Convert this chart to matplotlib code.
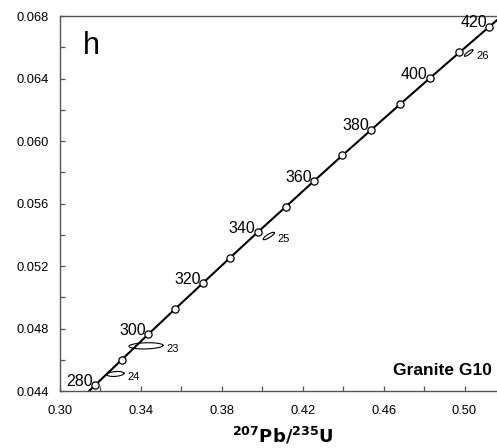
import numpy as np
import matplotlib.pyplot as plt

plt.rcParams['font.family'] = ['Liberation Sans', 'DejaVu Sans']

# concordia ages (Ma) and their 207Pb/235U, 206Pb/238U ratios
ages = [270, 280, 290, 300, 310, 320, 330, 340, 350, 360, 370, 380, 390, 400, 410, 420, 430]
pb207_u235 = [0.3046, 0.3175, 0.3306, 0.3437, 0.3570, 0.3705, 0.3840, 0.3977, 0.4116,
              0.4255, 0.4396, 0.4539, 0.4683, 0.4828, 0.4975, 0.5123, 0.5273]
pb206_u238 = [0.04277, 0.04439, 0.04601, 0.04764, 0.04926, 0.05089, 0.05252, 0.05416,
              0.05579, 0.05743, 0.05908, 0.06072, 0.06237, 0.06402, 0.06567, 0.06732, 0.06898]
labelled_ages = [280, 300, 320, 340, 360, 380, 400, 420]
marked_ages = list(range(280, 421, 10))

# zircon spot analyses: centre, half-widths and error correlation
spot_ids = ['23', '24', '25', '26']
spot_x = [0.3425, 0.3274, 0.4032, 0.5020]
spot_y = [0.04689, 0.04509, 0.05392, 0.06563]
spot_sx = [0.0084, 0.0042, 0.0028, 0.0021]
spot_sy = [0.00020, 0.00016, 0.00024, 0.00021]
spot_rho = [0.15, 0.25, 0.85, 0.85]

fig = plt.figure(figsize=(4.97, 4.48), dpi=100)
ax = fig.add_axes([60 / 497, 57 / 448, 445 / 497, 375 / 448])

# concordia curve
ax.plot(pb207_u235, pb206_u238, color='black', lw=1.5, zorder=2)
mx = [x for a, x in zip(ages, pb207_u235) if a in marked_ages]
my = [y for a, y in zip(ages, pb206_u238) if a in marked_ages]
ax.plot(mx, my, 'o', ms=5.2, mfc='white', mec='black', mew=0.9, zorder=3)

for a, x, y in zip(ages, pb207_u235, pb206_u238):
    if a in labelled_ages:
        ax.annotate(str(a), (x, y), xytext=(-1.5, -0.5), textcoords='offset points',
                    ha='right', va='baseline', fontsize=11.5, zorder=4)

# error ellipses
t = np.linspace(0, 2 * np.pi, 200)
for sid, cx, cy, sx, sy, r in zip(spot_ids, spot_x, spot_y, spot_sx, spot_sy, spot_rho):
    ex = cx + sx * np.cos(t)
    ey = cy + sy * (r * np.cos(t) + np.sqrt(1 - r ** 2) * np.sin(t))
    ax.plot(ex, ey, color='black', lw=0.8, zorder=2.5)
    ax.annotate(sid, (cx + sx, cy), xytext=(2.5, -2), textcoords='offset points',
                ha='left', va='center', fontsize=8)

ax.set_xlim(0.30, 0.52)
ax.set_ylim(0.044, 0.068)
ax.set_xticks(np.arange(0.30, 0.521, 0.04))
ax.set_xticks(np.arange(0.30, 0.521, 0.02), minor=True)
ax.set_yticks(np.arange(0.044, 0.0681, 0.004))
ax.set_yticks(np.arange(0.044, 0.0681, 0.002), minor=True)
ax.xaxis.set_major_formatter(plt.FormatStrFormatter('%.2f'))
ax.yaxis.set_major_formatter(plt.FormatStrFormatter('%.3f'))
ax.tick_params(which='both', direction='in', length=3.5, width=0.9, color='#555555',
               labelsize=9.3)
ax.tick_params(axis='x', which='both', pad=10)
ax.tick_params(axis='y', which='both', pad=8)
for s in ax.spines.values():
    s.set_color('#555555')
    s.set_linewidth(1.0)

ax.set_xlabel(r'$\mathbf{^{207}Pb/^{235}U}$', fontsize=13, labelpad=6)
ax.text(0.052, 0.96, 'h', transform=ax.transAxes, fontsize=22, va='top')
ax.text(492 / 497, 73 / 448, 'Granite G10', transform=fig.transFigure, fontsize=12.5,
        fontweight='bold', ha='right', va='baseline')

fig.savefig('out.png', dpi=100)
